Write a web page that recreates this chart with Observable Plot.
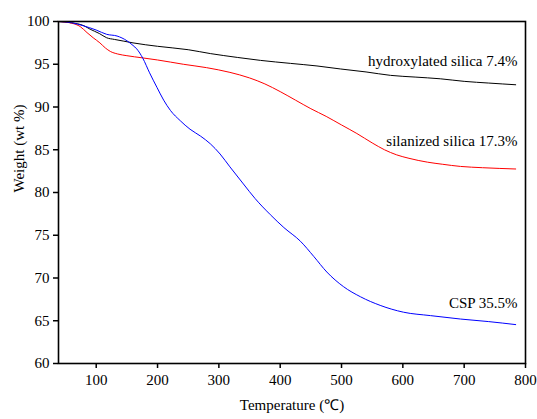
<!DOCTYPE html>
<html>
<head>
<meta charset="utf-8">
<script src="https://cdn.jsdelivr.net/npm/d3@7"></script>
<script src="https://cdn.jsdelivr.net/npm/@observablehq/plot@0.6"></script>
<style>
  html, body { margin: 0; padding: 0; background: #fff; }
  #chart { width: 537px; height: 419px; }
  #chart svg, #chart svg text, #chart svg g { font-family: "Liberation Serif", serif !important; }
</style>
</head>
<body>
<div id="chart"></div>
<script>
// hydroxylated silica
const hydroT = [38,60,80,90,105,117,130,145,160,200,250,286,330,368,417,460,498,540,580,620,661,700,740,784];
const hydroW = [100,99.85,99.5,99.1,98.6,98.1,97.9,97.7,97.5,97.1,96.7,96.25,95.8,95.45,95.1,94.8,94.45,94.1,93.7,93.5,93.3,93.0,92.8,92.6];
// silanized silica
const silT = [38,60,74,85,95,106,115,123,135,150,175,200,242,280,318,350,375,400,425,450,475,500,525,550,570,590,610,640,665,694,730,784];
const silW = [100,99.8,99.4,98.7,98.1,97.5,96.9,96.5,96.2,96.0,95.75,95.5,95.0,94.6,94.05,93.4,92.7,91.8,90.8,89.8,88.9,87.9,86.9,85.8,85.0,84.4,84.0,83.55,83.3,83.05,82.9,82.75];
// CSP
const cspT = [38,60,79,100,117,134,150,160,166,176,187,199,210,221,237,253,270,286,302,318,340,359,384,406,433,455,476,503,531,563,601,645,694,740,784];
const cspW = [100,99.85,99.5,99.0,98.5,98.3,97.75,97.2,96.8,95.7,94.0,92.3,90.8,89.6,88.4,87.4,86.6,85.7,84.5,83.0,81.0,79.3,77.4,75.9,74.3,72.5,70.7,69.0,67.8,66.8,66.0,65.6,65.2,64.9,64.55];

const seriesNames = ["hydroxylated silica", "silanized silica", "CSP"];
const seriesColors = ["#000000", "#ff0000", "#0000ff"];
const labelTexts = ["hydroxylated silica 7.4%", "silanized silica 17.3%", "CSP 35.5%"];
const labelX = [787, 787, 787];
const labelY = [95.3, 85.95, 67.0];

const xTicks = [100,200,300,400,500,600,700,800];
const yTicks = [60,65,70,75,80,85,90,95,100];

const toRows = (T, W, s) => T.map((t, i) => ({T: t, W: W[i], s}));
const rows = [
  ...toRows(hydroT, hydroW, seriesNames[0]),
  ...toRows(silT, silW, seriesNames[1]),
  ...toRows(cspT, cspW, seriesNames[2])
];
const labels = labelTexts.map((t, i) => ({t, x: labelX[i], y: labelY[i]}));

const font = "Liberation Serif, serif";

const plot = Plot.plot({
  width: 537,
  height: 419,
  marginLeft: 58,
  marginRight: 12,
  marginTop: 21,
  marginBottom: 56,
  style: {fontFamily: font, fontSize: "15px", color: "#000", background: "#fff"},
  x: {domain: [38.5, 800], label: null},
  y: {domain: [60, 100], label: null},
  color: {domain: seriesNames, range: seriesColors},
  marks: [
    Plot.line(rows, {x: "T", y: "W", z: "s", stroke: "s", strokeWidth: 1, curve: "monotone-x"}),
    Plot.text(labels, {x: "x", y: "y", text: "t", textAnchor: "end", fontSize: 15, fill: "#000"}),
    Plot.frame({stroke: "#000", strokeWidth: 1.6}),
    Plot.axisX({ticks: xTicks, tickSize: 5, tickPadding: 6, strokeWidth: 1.5, fontSize: 15, label: null}),
    Plot.axisY({ticks: yTicks, tickSize: 5, tickPadding: 4, strokeWidth: 1.5, fontSize: 15, label: null}),
    Plot.text(["Temperature (℃)"], {frameAnchor: "bottom", dy: 46, fontSize: 15, fill: "#000"}),
    Plot.text(["Weight (wt %)"], {frameAnchor: "left", dx: -39, rotate: -90, fontSize: 15, fill: "#000"})
  ]
});
d3.select(plot).attr("font-family", font).style("font-family", font);
d3.select(plot).selectAll("text, g").attr("font-family", font).style("font-family", font);
document.getElementById("chart").appendChild(plot);
</script>
</body>
</html>
